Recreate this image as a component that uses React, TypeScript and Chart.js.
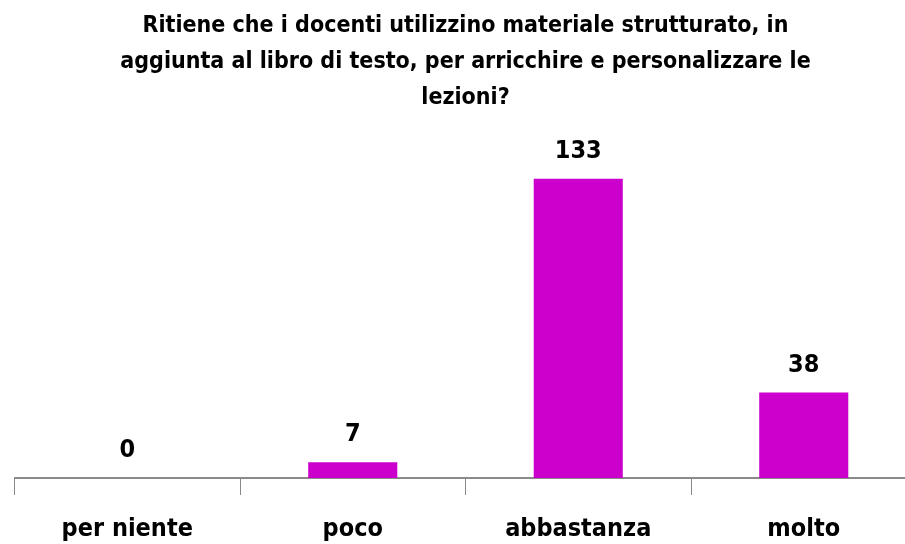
import React, { useEffect, useRef } from "react";
import { Chart, registerables } from "chart.js";

Chart.register(...registerables);

const categories = ["per niente", "poco", "abbastanza", "molto"];
const values = [0, 7, 133, 38];
const titleLines = [
  "Ritiene che i docenti utilizzino materiale strutturato, in",
  "aggiunta al libro di testo, per arricchire e personalizzare le",
  "lezioni?",
];

const FONT = "'DejaVu Sans Condensed', 'DejaVu Sans', sans-serif";

const valueLabels = {
  id: "valueLabels",
  afterDatasetsDraw(chart: any) {
    const ctx = chart.ctx;
    const meta = chart.getDatasetMeta(0);
    ctx.save();
    ctx.font = `bold 25px ${FONT}`;
    ctx.fillStyle = "#000";
    ctx.textAlign = "center";
    ctx.textBaseline = "alphabetic";
    meta.data.forEach((bar: any, i: number) => {
      ctx.fillText(String(chart.data.datasets[0].data[i]), bar.x, bar.y - 21);
    });
    ctx.restore();
  },
};

export default function App() {
  const ref = useRef<HTMLCanvasElement>(null);
  useEffect(() => {
    if (!ref.current) return;
    const chart = new Chart(ref.current, {
      type: "bar",
      data: {
        labels: categories,
        datasets: [
          {
            data: values,
            backgroundColor: "#CC00CC",
            borderWidth: 0,
            categoryPercentage: 1,
            barPercentage: 0.395,
          },
        ],
      },
      options: {
        animation: false,
        responsive: false,
        devicePixelRatio: 1,
        layout: { padding: { left: 14.5, right: 14.5, top: 0, bottom: 2 } },
        plugins: {
          legend: { display: false },
          tooltip: { enabled: false },
          title: {
            display: true,
            text: titleLines,
            color: "#000",
            font: { family: FONT, size: 23, weight: "bold", lineHeight: "36px" },
            padding: { top: 8, bottom: 47 },
          },
        },
        scales: {
          x: {
            offset: true,
            afterFit: (scale: any) => {
              scale.height = 64;
            },
            grid: {
              offset: true,
              drawOnChartArea: false,
              drawTicks: true,
              tickLength: 17,
              color: "#8a8a8a",
              lineWidth: 1,
            },
            border: { display: true, color: "#8a8a8a", width: 2 },
            ticks: {
              color: "#000",
              padding: 22,
              font: { family: FONT, size: 25, weight: "bold", lineHeight: 1 },
            },
          },
          y: {
            display: false,
            min: 0,
            max: 140,
          },
        },
      },
      plugins: [valueLabels],
    });
    return () => chart.destroy();
  }, []);
  return (
    <div
      style={{
        position: "absolute",
        left: 0,
        top: 0,
        width: 905,
        height: 544,
        overflow: "hidden",
        background: "#fff",
      }}
    >
      <canvas ref={ref} width={931} height={544} style={{ width: 931, height: 544, display: "block" }} />
    </div>
  );
}
